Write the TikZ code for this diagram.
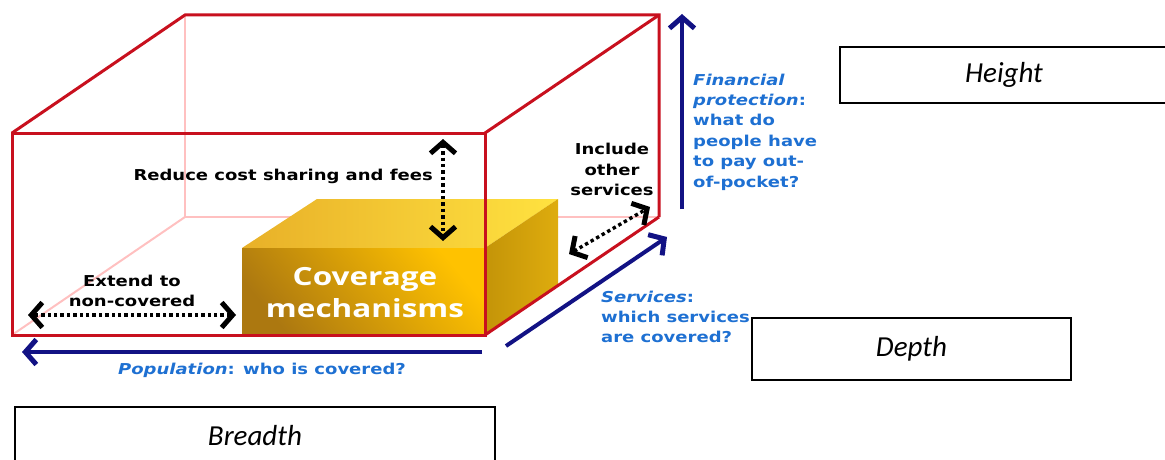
\documentclass[tikz,border=0pt]{standalone}
\usepackage{fontspec}
\usetikzlibrary{arrows.meta}
\newfontfamily\dv{DejaVu Sans}[FakeStretch=1.2]
\newfontfamily\opn{Open Sans}[FakeStretch=1.26]
\newfontfamily\clb{Carlito}

\definecolor{boxred}{RGB}{200,16,30}
\definecolor{boxpink}{RGB}{255,192,192}
\definecolor{navy}{RGB}{18,18,132}
\definecolor{txtblue}{RGB}{30,112,210}
\definecolor{golddark}{RGB}{172,120,16}
\definecolor{goldbright}{RGB}{255,194,0}
\definecolor{goldtopL}{RGB}{232,176,40}
\definecolor{goldtopR}{RGB}{255,226,64}
\definecolor{goldsideA}{RGB}{196,148,8}
\definecolor{goldsideB}{RGB}{222,172,14}

\tikzset{
  chev/.tip={Straight Barb[length=11pt,width=25pt,line width=5pt]},
  redline/.style={draw=boxred, line width=3pt, line join=miter},
  hiddenline/.style={draw=boxpink, line width=2pt},
  axisarrow/.style={draw=navy, line width=4pt, -chev},
  dotarrow/.style={draw=black, line width=3.4pt, dash pattern=on 3.4pt off 3pt, chev-chev},
  blacklab/.style={font=\dv\bfseries\fontsize{15}{20.5}\selectfont, align=center, inner sep=0pt},
  bluelab/.style={font=\dv\bfseries\fontsize{15}{20.4}\selectfont, text=txtblue, align=left, inner sep=0pt},
  dimbox/.style={draw=black, line width=1.6pt, font=\clb\itshape\fontsize{29}{33}\selectfont, inner sep=0pt}
}

\begin{document}
\begin{tikzpicture}[x=1pt,y=-1pt]
\useasboundingbox (0,0) rectangle (1165,460);

% corners of the outer frame: front face and back face
\coordinate (FTL) at (12,133);
\coordinate (FTR) at (485,133);
\coordinate (FBL) at (12,335);
\coordinate (FBR) at (485,335);
\coordinate (BTL) at (185,15);
\coordinate (BTR) at (659,15);
\coordinate (BBL) at (185,217);
\coordinate (BBR) at (659,217);

% hidden edges of the frame
\draw[hiddenline] (BTL) -- (BBL) -- (BBR);
\draw[hiddenline] (FBL) -- (BBL);

% the solid block
\coordinate (YFTL) at (242,248);
\coordinate (YFTR) at (485,248);
\coordinate (YFBL) at (242,335);
\coordinate (YFBR) at (485,335);
\coordinate (YBTL) at (317,199);
\coordinate (YBTR) at (558,199);
\coordinate (YBBR) at (558,285);
\shade[left color=goldtopL, right color=goldtopR] (YFTL) -- (YFTR) -- (YBTR) -- (YBTL) -- cycle;
\shade[left color=goldsideA, right color=goldsideB] (YFTR) -- (YBTR) -- (YBBR) -- (YFBR) -- cycle;
\shade[bottom color=golddark, top color=goldbright, shading angle=-50] (YFTL) -- (YFTR) -- (YFBR) -- (YFBL) -- cycle;

% visible edges of the frame
\draw[redline] (FTL) -- (BTL) -- (BTR) -- (BBR);
\draw[redline] (FTR) -- (BTR);
\draw[redline] (FBR) -- (BBR);
\draw[redline] (FTL) rectangle (FBR);

% block label
\node[font=\opn\bfseries\fontsize{25}{32}\selectfont, text=white, align=center, inner sep=0pt] (mech) at (365,293) {Coverage\\mechanisms};

% black annotations with dotted double arrows
\node[blacklab, anchor=east] (reduce) at (433,176) {Reduce cost sharing and fees};
\coordinate (rtop) at (443,139);
\coordinate (rbot) at (443,241);
\draw[dotarrow] (rtop) -- (rbot);

\node[blacklab] (include) at (612,169.5) {Include\\other\\services};
\coordinate (sin) at (569,254);
\coordinate (sout) at (650,207);
\draw[dotarrow] (sin) -- (sout);

\node[blacklab] (extend) at (132,291) {Extend to\\non-covered};
\coordinate (eleft) at (28,315);
\coordinate (eright) at (236,315);
\draw[dotarrow] (eright) -- (eleft);

% the three dimension axes
\coordinate (popS) at (482,352);
\coordinate (popE) at (22,352);
\draw[axisarrow] (popS) -- (popE);
\node[bluelab, align=center] (poplab) at (262,370) {\textit{Population}: who is covered?};

\coordinate (srvS) at (506,346);
\coordinate (srvE) at (667,237);
\draw[axisarrow] (srvS) -- (srvE);
\node[bluelab, anchor=west] (srvlab) at (601,317) {\textit{Services}:\\which services\\are covered?};

\coordinate (finS) at (682,209);
\coordinate (finE) at (682,14);
\draw[axisarrow] (finS) -- (finE);
\node[bluelab, anchor=west] (finlab) at (693,132) {\textit{Financial}\\\textit{protection}:\\what do\\people have\\to pay out-\\of-pocket?};

% dimension name boxes
\node[dimbox, minimum width=328pt, minimum height=56pt] (height) at (1004,75) {\raisebox{-3pt}{Height}};
\node[dimbox, minimum width=319pt, minimum height=62pt] (depth) at (911.5,349) {Depth};
\node[dimbox, minimum width=480pt, minimum height=58pt] (breadth) at (255,436) {Breadth};
\end{tikzpicture}
\end{document}
